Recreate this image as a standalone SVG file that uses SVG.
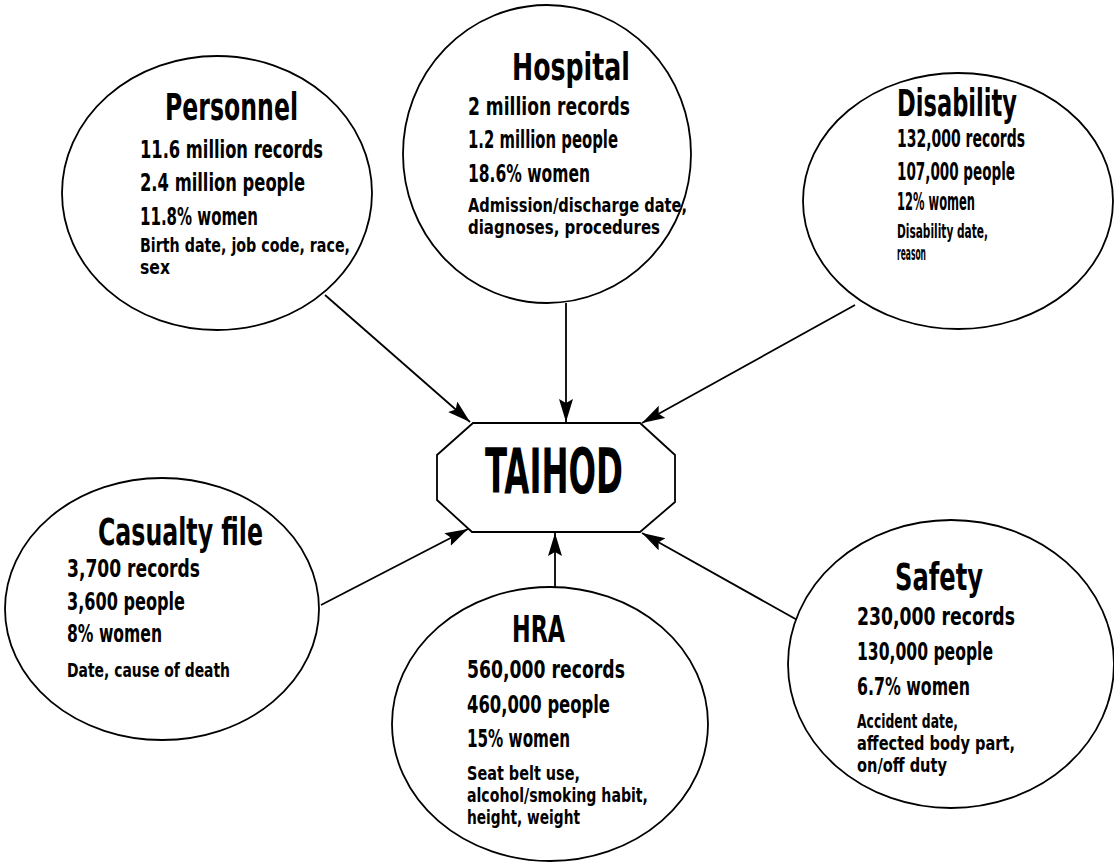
<svg xmlns="http://www.w3.org/2000/svg" width="1114" height="865" viewBox="0 0 1114 865">
<style>
.bg{fill:#fff}
.node{fill:#fff;stroke:#000;stroke-width:1.8}
.conn{stroke:#000;stroke-width:1.8;fill:none}
text{font-family:"DejaVu Sans Condensed","Liberation Sans Narrow","Liberation Sans",sans-serif;font-weight:bold;fill:#000}
.t{font-size:37px}
.b{font-size:25px}
.d{font-size:19px}
.c{font-size:62px}
</style>
<defs>
<marker id="ah" markerUnits="userSpaceOnUse" markerWidth="26" markerHeight="16" refX="23" refY="7" orient="auto">
<path d="M0,0 L23,7 L0,14 L4,7 z" fill="#000"/>
</marker>
</defs>
<rect class="bg" x="0" y="0" width="1114" height="865"/>
<g id="connectors">
<line class="conn" x1="325" y1="295" x2="470" y2="422" marker-end="url(#ah)"/>
<line class="conn" x1="566" y1="303" x2="566" y2="422" marker-end="url(#ah)"/>
<line class="conn" x1="855" y1="305" x2="642" y2="423" marker-end="url(#ah)"/>
<line class="conn" x1="321" y1="605" x2="468" y2="529" marker-end="url(#ah)"/>
<line class="conn" x1="555" y1="587" x2="555" y2="533" marker-end="url(#ah)"/>
<line class="conn" x1="808" y1="626" x2="642" y2="533" marker-end="url(#ah)"/>
</g>
<g id="personnel">
<ellipse class="node" cx="217" cy="193" rx="155" ry="137"/>
<text class="t" x="165" y="120" textLength="133" lengthAdjust="spacingAndGlyphs">Personnel</text>
<text class="b" x="140" y="158" textLength="183" lengthAdjust="spacingAndGlyphs">11.6 million records</text>
<text class="b" x="140" y="191" textLength="165" lengthAdjust="spacingAndGlyphs">2.4 million people</text>
<text class="b" x="140" y="225" textLength="118" lengthAdjust="spacingAndGlyphs">11.8% women</text>
<text class="d" x="140" y="252" textLength="210" lengthAdjust="spacingAndGlyphs">Birth date, job code, race,</text>
<text class="d" x="140" y="274" textLength="30" lengthAdjust="spacingAndGlyphs">sex</text>
</g>
<g id="hospital">
<ellipse class="node" cx="547" cy="154" rx="144" ry="149"/>
<text class="t" x="512" y="80" textLength="118" lengthAdjust="spacingAndGlyphs">Hospital</text>
<text class="b" x="468" y="115" textLength="162" lengthAdjust="spacingAndGlyphs">2 million records</text>
<text class="b" x="468" y="148" textLength="150" lengthAdjust="spacingAndGlyphs">1.2 million people</text>
<text class="b" x="468" y="182" textLength="122" lengthAdjust="spacingAndGlyphs">18.6% women</text>
<text class="d" x="468" y="212" textLength="219" lengthAdjust="spacingAndGlyphs">Admission/discharge date,</text>
<text class="d" x="468" y="234" textLength="192" lengthAdjust="spacingAndGlyphs">diagnoses, procedures</text>
</g>
<g id="disability">
<ellipse class="node" cx="958" cy="201" rx="155" ry="128"/>
<text class="t" x="897" y="116" textLength="120" lengthAdjust="spacingAndGlyphs">Disability</text>
<text class="b" x="897" y="147" textLength="128" lengthAdjust="spacingAndGlyphs">132,000 records</text>
<text class="b" x="897" y="180" textLength="118" lengthAdjust="spacingAndGlyphs">107,000 people</text>
<text class="b" x="897" y="210" textLength="78" lengthAdjust="spacingAndGlyphs">12% women</text>
<text class="d" x="897" y="238" textLength="91" lengthAdjust="spacingAndGlyphs">Disability date,</text>
<text class="d" x="897" y="260" textLength="29" lengthAdjust="spacingAndGlyphs">reason</text>
</g>
<g id="taihod">
<polygon class="node" points="473,423 640,423 675,455 675,502 640,532 472,532 437,500 437,455"/>
<text class="c" x="485" y="493" textLength="138" lengthAdjust="spacingAndGlyphs">TAIHOD</text>
</g>
<g id="casualty">
<ellipse class="node" cx="162" cy="609" rx="157" ry="131"/>
<text class="t" x="98" y="545" textLength="165" lengthAdjust="spacingAndGlyphs">Casualty file</text>
<text class="b" x="67" y="577" textLength="133" lengthAdjust="spacingAndGlyphs">3,700 records</text>
<text class="b" x="67" y="610" textLength="118" lengthAdjust="spacingAndGlyphs">3,600 people</text>
<text class="b" x="67" y="642" textLength="95" lengthAdjust="spacingAndGlyphs">8% women</text>
<text class="d" x="67" y="677" textLength="163" lengthAdjust="spacingAndGlyphs">Date, cause of death</text>
</g>
<g id="hra">
<ellipse class="node" cx="550" cy="724" rx="158" ry="137"/>
<text class="t" x="512" y="642" textLength="53" lengthAdjust="spacingAndGlyphs">HRA</text>
<text class="b" x="467" y="678" textLength="158" lengthAdjust="spacingAndGlyphs">560,000 records</text>
<text class="b" x="467" y="713" textLength="143" lengthAdjust="spacingAndGlyphs">460,000 people</text>
<text class="b" x="467" y="747" textLength="103" lengthAdjust="spacingAndGlyphs">15% women</text>
<text class="d" x="467" y="780" textLength="113" lengthAdjust="spacingAndGlyphs">Seat belt use,</text>
<text class="d" x="467" y="802" textLength="181" lengthAdjust="spacingAndGlyphs">alcohol/smoking habit,</text>
<text class="d" x="467" y="824" textLength="113" lengthAdjust="spacingAndGlyphs">height, weight</text>
</g>
<g id="safety">
<ellipse class="node" cx="951" cy="664" rx="163" ry="144"/>
<text class="t" x="895" y="590" textLength="88" lengthAdjust="spacingAndGlyphs">Safety</text>
<text class="b" x="857" y="625" textLength="158" lengthAdjust="spacingAndGlyphs">230,000 records</text>
<text class="b" x="857" y="660" textLength="136" lengthAdjust="spacingAndGlyphs">130,000 people</text>
<text class="b" x="857" y="695" textLength="113" lengthAdjust="spacingAndGlyphs">6.7% women</text>
<text class="d" x="857" y="728" textLength="101" lengthAdjust="spacingAndGlyphs">Accident date,</text>
<text class="d" x="857" y="750" textLength="158" lengthAdjust="spacingAndGlyphs">affected body part,</text>
<text class="d" x="857" y="772" textLength="90" lengthAdjust="spacingAndGlyphs">on/off duty</text>
</g>
</svg>
